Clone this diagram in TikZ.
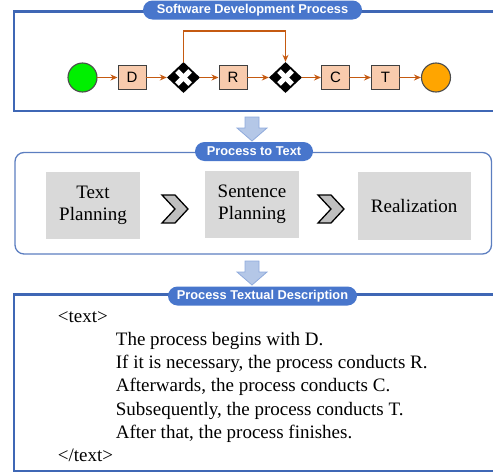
\documentclass[tikz,border=0pt]{standalone}
\usepackage{fontspec}
\setmainfont{Liberation Serif}
\setsansfont{Liberation Sans}
\usetikzlibrary{shapes.geometric,arrows.meta,positioning}
\definecolor{frameblue}{HTML}{3F67B5}
\definecolor{pillblue}{HTML}{4876CC}
\definecolor{lightblue}{HTML}{B4C7E7}
\definecolor{edgeblue}{HTML}{8FAADC}
\definecolor{flowbrown}{HTML}{C55A11}
\definecolor{taskfill}{HTML}{F8CBAD}
\definecolor{stepgray}{HTML}{D9D9D9}
\definecolor{chevgray}{HTML}{BFBFBF}
\definecolor{startgreen}{HTML}{00F000}
\definecolor{endorange}{HTML}{FFA500}
\begin{document}
\begin{tikzpicture}[x=1pt,y=-1pt,line cap=round,>={Stealth[length=7pt,width=6pt]}]
	\tikzset{
		pill/.style={fill=pillblue,rounded corners=9.5pt,text=white,font=\sffamily\bfseries\fontsize{12.8}{14}\selectfont,minimum height=19pt,inner sep=0pt},
		task/.style={draw=black!75,fill=taskfill,line width=1pt,minimum width=28pt,minimum height=24pt,inner sep=0pt,font=\sffamily\fontsize{15}{15}\selectfont},
		event/.style={circle,draw=black!70,line width=1.1pt,minimum size=29pt,inner sep=0pt},
		gateway/.style={diamond,fill=black,minimum width=33pt,minimum height=31pt,inner sep=0pt},
		flow/.style={->,color=flowbrown,line width=1.8pt,line join=miter},
		stepbox/.style={fill=stepgray,align=center,font=\fontsize{19}{21.5}\selectfont,inner sep=0pt},
		sentence/.style={anchor=base west,font=\fontsize{19}{21}\selectfont,inner sep=0pt}
	}
	\useasboundingbox (0,0) rectangle (493,474);
	\clip (0,0) rectangle (493,474);
	% frames
	\draw[frameblue,line width=2.5pt] (14,11.5) rectangle (505,111);
	\draw[frameblue!85,line width=1.3pt,rounded corners=9pt] (15,152.5) rectangle (491.5,254);
	\draw[frameblue,line width=2.5pt] (14,294.5) rectangle (505,471);
	% process model
	\node[event,fill=startgreen] (startev) at (82.5,77.5) {};
	\node[task] (taskD) at (132,77.5) {D};
	\node[gateway] (gwA) at (183.5,77.5) {};
	\node[task] (taskR) at (233,77.5) {R};
	\node[gateway] (gwB) at (285.5,77.5) {};
	\node[task] (taskC) at (335.5,77.5) {C};
	\node[task] (taskT) at (385.5,77.5) {T};
	\node[event,fill=endorange] (endev) at (436,77.5) {};
	\foreach \g in {gwA,gwB}{
		\draw[white,line width=5pt,line cap=butt] ([shift={(-6.5,-6.5)}]\g.center) -- ([shift={(6.5,6.5)}]\g.center);
		\draw[white,line width=5pt,line cap=butt] ([shift={(-6.5,6.5)}]\g.center) -- ([shift={(6.5,-6.5)}]\g.center);
	}
	\foreach \a/\b in {startev/taskD,taskD/gwA,gwA/taskR,taskR/gwB,gwB/taskC,taskC/taskT,taskT/endev}
		\draw[flow] (\a) -- (\b);
	\draw[flow] (gwA.north) -- ++(0,-30.5) -| (gwB.north);
	% down arrows
	\foreach \ty in {117,261}
		\filldraw[fill=lightblue,draw=edgeblue,line width=0.8pt,line join=miter] (245,\ty) -- (259,\ty) -- (259,\ty+11) -- (267,\ty+11) -- (252,\ty+24) -- (237,\ty+11) -- (245,\ty+11) -- cycle;
	% generation steps
	\node[stepbox,minimum width=94pt,minimum height=67pt] (tplan) at (93,205.3) {Text\\Planning};
	\node[stepbox,minimum width=94pt,minimum height=67pt] (splan) at (252,204.5) {Sentence\\Planning};
	\node[stepbox,minimum width=113pt,minimum height=68pt] (realiz) at (414.2,205.7) {Realization};
	\foreach \cx in {175,331}
		\filldraw[fill=chevgray,draw=black,line width=1.3pt,line join=miter] (\cx-13,195) -- (\cx,195) -- (\cx+13,209) -- (\cx,223) -- (\cx-13,223) -- (\cx,209) -- cycle;
	% titles
	\node[pill,minimum width=219pt] (sdp) at (252.5,10) {Software Development Process};
	\node[pill,minimum width=118pt] (ptt) at (254,151.5) {Process to Text};
	\node[pill,minimum width=189pt] (ptd) at (262.5,296) {Process Textual Description};
	% textual description
	\node[sentence] (opentag) at (57.7,322) {<text>};
	\foreach \txt [count=\i] in {{The process begins with D.},{If it is necessary, the process conducts R.},{Afterwards, the process conducts C.},{Subsequently, the process conducts T.},{After that, the process finishes.}}
		\node[sentence] (sent\i) at (115.7,322+23.3*\i) {\txt};
	\node[sentence] (closetag) at (57.7,461.5) {</text>};
\end{tikzpicture}
\end{document}
